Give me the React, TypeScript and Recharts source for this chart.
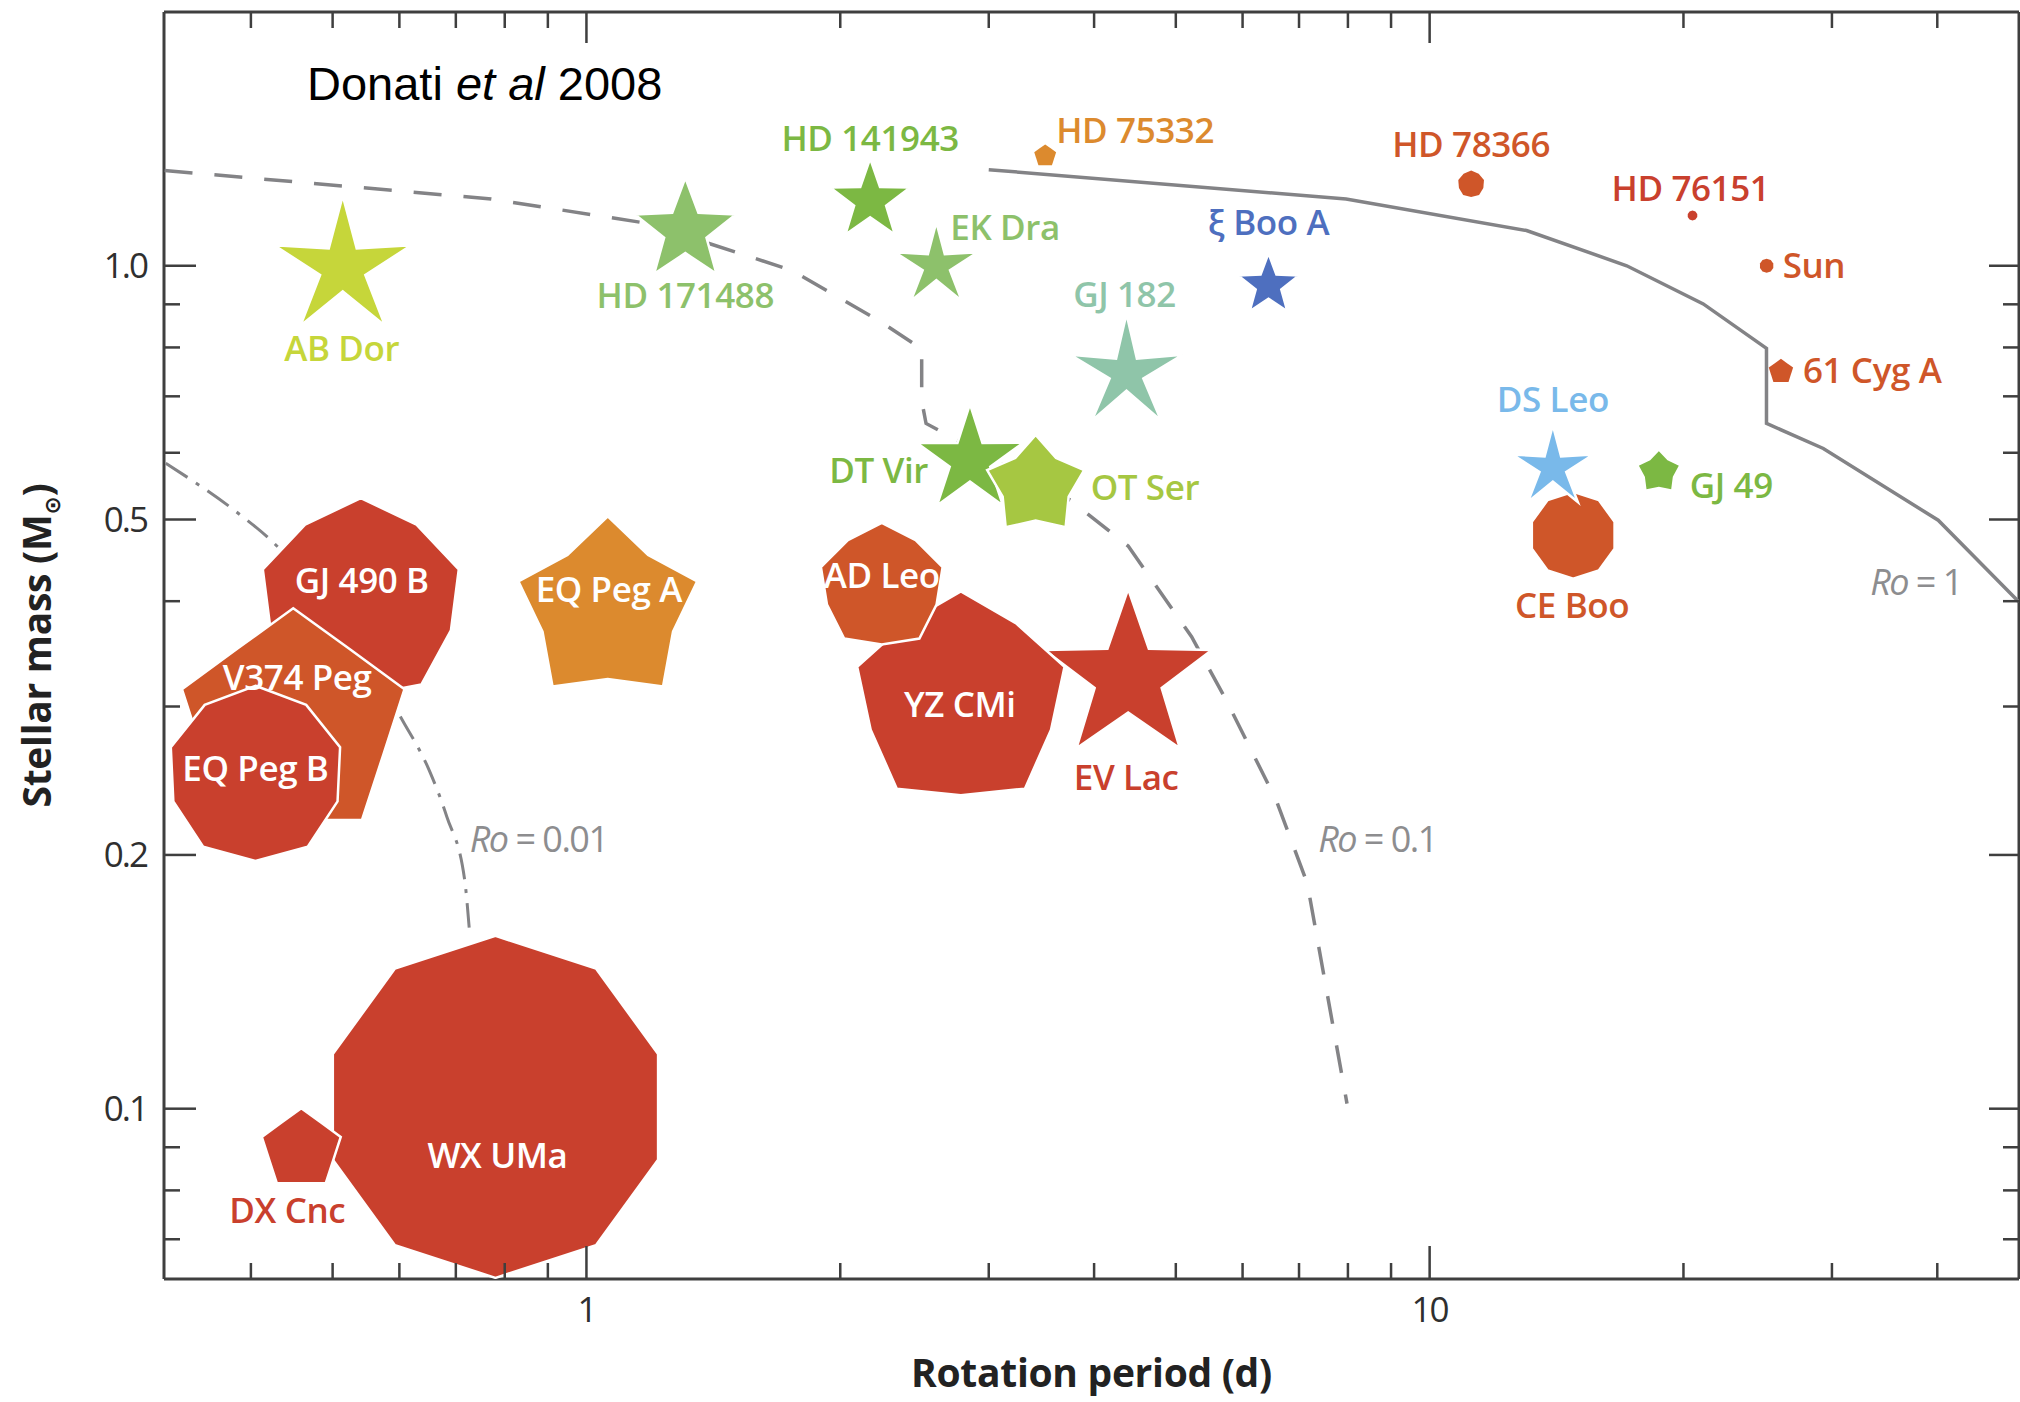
import React from 'react';
import { ScatterChart, Scatter, XAxis, YAxis } from 'recharts';

// ---- Stars: rotation period (d) and stellar mass (solar units) ----
const starNames = [
  'AB Dor', 'HD 171488', 'HD 141943', 'EK Dra', 'HD 75332', 'ξ Boo A', 'GJ 182',
  'HD 78366', 'HD 76151', 'Sun', '61 Cyg A', 'CE Boo', 'DS Leo', 'GJ 49',
  'DT Vir', 'OT Ser', 'GJ 490 B', 'V374 Peg', 'EQ Peg B', 'EQ Peg A',
  'EV Lac', 'YZ CMi', 'AD Leo', 'WX UMa', 'DX Cnc',
];
const rotationPeriods = [
  0.514, 1.31, 2.17, 2.60, 3.50, 6.44, 4.37,
  11.2, 20.5, 25.1, 26.1, 14.8, 14.0, 18.7,
  2.85, 3.41, 0.54, 0.449, 0.405, 1.06,
  4.39, 2.78, 2.24, 0.78, 0.459,
];
const stellarMasses = [
  0.995, 1.10, 1.195, 1.0, 1.35, 0.948, 0.746,
  1.25, 1.147, 1.0, 0.749, 0.479, 0.576, 0.569,
  0.588, 0.548, 0.40, 0.285, 0.249, 0.39,
  0.325, 0.305, 0.416, 0.1005, 0.0894,
];
// Relative magnetic energy, drawn as the symbol radius
const fieldEnergy = [
  7.2, 5.3, 4.2, 4.35, 1.15, 3.2, 5.9,
  1.35, 0.5, 0.7, 1.28, 4.35, 4.25, 2.28,
  5.6, 5.1, 10.3, 11.7, 8.9, 9.4,
  8.8, 10.9, 6.4, 17.1, 4.15,
];
// Axisymmetry of the poloidal field: 1 = decagon, low = sharp star
const axisymmetry = [
  0.33, 0.42, 0.4, 0.33, 0.81, 0.42, 0.3,
  0.95, 1, 1, 0.81, 1, 0.33, 0.7,
  0.38, 0.68, 0.92, 0.81, 0.97, 0.73,
  0.4, 0.87, 0.9, 1, 0.81,
];
// Field topology class (red = poloidal ... blue = toroidal)
const fieldTone = [
  'lime', 'sage', 'green', 'sage', 'orange', 'blue', 'teal',
  'vermilion', 'red', 'vermilion', 'vermilion', 'vermilion', 'sky', 'green',
  'green', 'yellowgreen', 'red', 'vermilion', 'red', 'orange',
  'red', 'red', 'vermilion', 'red', 'red',
];

// ---- Rossby number contours ----
const ro001Periods = [0.317, 0.385, 0.42, 0.605, 0.651, 0.683, 0.717, 0.726];
const ro001Masses = [0.583, 0.51, 0.475, 0.289, 0.252, 0.222, 0.187, 0.164];
const ro01Periods = [0.316, 0.516, 0.771, 1.18, 1.754, 2.213, 2.498, 2.498, 2.528, 2.688, 3.75, 4.39, 5.22, 5.74, 6.58, 7.16, 7.98];
const ro01Masses = [1.297, 1.243, 1.20, 1.123, 0.987, 0.863, 0.797, 0.692, 0.65, 0.629, 0.527, 0.465, 0.363, 0.305, 0.232, 0.185, 0.1014];
const ro1Periods = [3.0, 7.96, 13.03, 17.13, 21.11, 25.09, 25.09, 29.3, 40.1, 50];
const ro1Masses = [1.30, 1.20, 1.101, 1.0, 0.901, 0.798, 0.65, 0.607, 0.499, 0.399];
const roValues = ['0.01', '0.1', '1'];
const roLabelPeriods = [0.727, 7.375, 33.3];
const roLabelMasses = [0.2016, 0.2016, 0.4066];

// ---- Axes ----
const xTicks = [0.4, 0.5, 0.6, 0.7, 0.8, 0.9, 1, 2, 3, 4, 5, 6, 7, 8, 9, 10, 20, 30, 40];
const xMajorTicks = [1, 10];
const yTicks = [0.07, 0.08, 0.09, 0.1, 0.2, 0.3, 0.4, 0.5, 0.6, 0.7, 0.8, 0.9, 1.0];
const yMajorTicks = [0.1, 0.2, 0.5, 1.0];
const X_DOMAIN: [number, number] = [0.3155, 50];
const Y_DOMAIN: [number, number] = [0.0628, 2];

// ---- Styles / layout ----
const W = 2020;
const H = 1402;
const PLOT_LEFT = 164;
const PLOT_TOP = 12;
const PLOT_RIGHT = 2019;
const PLOT_BOTTOM = 1279;
const FRAME = '#3f3f3f';
const CURVE = '#838386';
const SYMBOL_UNIT = 10;
const LABEL_FONT = "'Open Sans', 'DejaVu Sans', sans-serif";

const TONES: Record<string, string> = {
  red: '#c9402d',
  vermilion: '#cf5629',
  orange: '#dc8a2e',
  lime: '#c6d63a',
  yellowgreen: '#a6c742',
  green: '#7cb843',
  sage: '#8dc16b',
  teal: '#8fc5a9',
  sky: '#79b9ea',
  blue: '#4e6fbf',
};

// label anchor, offset from the symbol centre (px), drawn inside the symbol
const LABEL_LAYOUT: Record<string, [string, number, number, boolean]> = {
  'AB Dor': ['middle', -1, 93, false],
  'HD 171488': ['middle', 0, 77, false],
  'HD 141943': ['middle', 0, -50, false],
  'EK Dra': ['start', 14, -26, false],
  'HD 75332': ['start', 11, -13, false],
  'ξ Boo A': ['middle', 0, -50, false],
  'GJ 182': ['middle', -2, -66, false],
  'HD 78366': ['middle', 0, -27, false],
  'HD 76151': ['middle', -2, -15, false],
  'Sun': ['start', 16, 12, false],
  '61 Cyg A': ['start', 22, 11, false],
  'CE Boo': ['middle', -1, 83, false],
  'DS Leo': ['middle', 0, -56, false],
  'GJ 49': ['start', 31, 26, false],
  'DT Vir': ['end', -42, 23, false],
  'OT Ser': ['start', 55, 14, false],
  'GJ 490 B': ['middle', 1, -8, true],
  'V374 Peg': ['middle', 4, -35, true],
  'EQ Peg B': ['middle', 0, 6, true],
  'EQ Peg A': ['middle', 1, -8, true],
  'EV Lac': ['middle', -2, 113, false],
  'YZ CMi': ['middle', -1, 17, true],
  'AD Leo': ['middle', 0, 1, true],
  'WX UMa': ['middle', 2, 61, true],
  'DX Cnc': ['middle', -14, 73, false],
};

type Star = {
  name: string;
  period: number;
  mass: number;
  field: number;
  axi: number;
  tone: string;
};

const stars: Star[] = starNames.map((name, i) => ({
  name,
  period: rotationPeriods[i],
  mass: stellarMasses[i],
  field: fieldEnergy[i],
  axi: axisymmetry[i],
  tone: fieldTone[i],
}));

const toCurve = (periods: number[], masses: number[]) =>
  periods.map((p, i) => ({ period: p, mass: masses[i] }));

const ro001Curve = toCurve(ro001Periods, ro001Masses);
const ro01Curve = toCurve(ro01Periods, ro01Masses);
const ro1Curve = toCurve(ro1Periods, ro1Masses);
const roLabels = roValues.map((text, i) => ({
  text,
  period: roLabelPeriods[i],
  mass: roLabelMasses[i],
}));

// Ten-vertex outline: outer and inner vertices alternate; inner/outer = k
function symbolPoints(cx: number, cy: number, r: number, k: number): string {
  const pts: string[] = [];
  for (let i = 0; i < 10; i++) {
    const a = ((-90 + 36 * i) * Math.PI) / 180;
    const rr = i % 2 === 0 ? r : r * k;
    pts.push(`${(cx + rr * Math.cos(a)).toFixed(2)},${(cy + rr * Math.sin(a)).toFixed(2)}`);
  }
  return pts.join(' ');
}

const StarSymbol = (props: any) => {
  const { cx, cy, payload } = props;
  if (cx == null || cy == null) return <g />;
  const r = payload.field * SYMBOL_UNIT;
  return (
    <polygon
      points={symbolPoints(cx, cy, r, payload.axi)}
      fill={TONES[payload.tone]}
      stroke="#ffffff"
      strokeWidth={r > 18 ? 2.5 : 0}
      strokeLinejoin="miter"
    />
  );
};

const StarLabel = (props: any) => {
  const { cx, cy, payload } = props;
  if (cx == null || cy == null) return <g />;
  const [anchor, dx, dy, inside] = LABEL_LAYOUT[payload.name];
  return (
    <text
      x={cx + dx}
      y={cy + dy}
      textAnchor={anchor as any}
      fill={inside ? '#ffffff' : TONES[payload.tone]}
      fontFamily={LABEL_FONT}
      fontWeight={600}
      fontSize={35}
      letterSpacing={-0.4}
    >
      {payload.name}
    </text>
  );
};

const RoLabel = (props: any) => {
  const { cx, cy, payload } = props;
  if (cx == null || cy == null) return <g />;
  return (
    <text x={cx} y={cy} fill="#8d8d8f" fontFamily={LABEL_FONT} fontSize={36} letterSpacing={-1.5}>
      <tspan fontStyle="italic">Ro</tspan> = {payload.text}
    </text>
  );
};

const NoPoint = () => <g />;

const tickFont = {
  fontFamily: LABEL_FONT,
  fontSize: 35,
  fill: '#2f2f2f',
  letterSpacing: -2,
};

const BottomTick = (props: any) => {
  const { x, payload } = props;
  const major = xMajorTicks.includes(payload.value);
  const len = major ? 33 : 16;
  return (
    <g>
      <line x1={x} x2={x} y1={PLOT_BOTTOM} y2={PLOT_BOTTOM - len} stroke={FRAME} strokeWidth={2.5} />
      {major && (
        <text x={x} y={PLOT_BOTTOM + 43} textAnchor="middle" {...tickFont}>
          {String(payload.value)}
        </text>
      )}
    </g>
  );
};

const TopTick = (props: any) => {
  const { x, payload } = props;
  const len = xMajorTicks.includes(payload.value) ? 31 : 16;
  return <line x1={x} x2={x} y1={PLOT_TOP} y2={PLOT_TOP + len} stroke={FRAME} strokeWidth={2.5} />;
};

const LeftTick = (props: any) => {
  const { y, payload } = props;
  const major = yMajorTicks.includes(payload.value);
  const len = major ? 32 : 16;
  return (
    <g>
      <line x1={PLOT_LEFT} x2={PLOT_LEFT + len} y1={y} y2={y} stroke={FRAME} strokeWidth={2.5} />
      {major && (
        <text x={PLOT_LEFT - 17} y={y + 12.5} textAnchor="end" {...tickFont}>
          {payload.value.toFixed(1)}
        </text>
      )}
    </g>
  );
};

const RightTick = (props: any) => {
  const { y, payload } = props;
  const len = yMajorTicks.includes(payload.value) ? 30 : 16;
  return <line x1={PLOT_RIGHT} x2={PLOT_RIGHT - len} y1={y} y2={y} stroke={FRAME} strokeWidth={2.5} />;
};

const XTitle = () => (
  <text
    x={(PLOT_LEFT + PLOT_RIGHT) / 2}
    y={1387}
    textAnchor="middle"
    fontFamily={LABEL_FONT}
    fontWeight={700}
    fontSize={39}
    fill="#222"
    letterSpacing={-0.3}
  >
    Rotation period (d)
  </text>
);

const YTitle = () => {
  const cx = 51;
  const cy = (PLOT_TOP + PLOT_BOTTOM) / 2;
  return (
    <text
      x={cx}
      y={cy}
      transform={`rotate(-90, ${cx}, ${cy})`}
      textAnchor="middle"
      fontFamily={LABEL_FONT}
      fontWeight={700}
      fontSize={39}
      fill="#222"
      letterSpacing={-0.3}
    >
      Stellar mass (M
      <tspan fontSize={22} dy={9}>⊙</tspan>
      <tspan dy={-9}>)</tspan>
    </text>
  );
};

const axisLine = { stroke: FRAME, strokeWidth: 3 };

export default function App() {
  return (
    <div style={{ position: 'absolute', left: 0, top: 0, width: W, height: H, overflow: 'hidden', background: '#fff' }}>
      <ScatterChart width={W} height={H} margin={{ top: PLOT_TOP - 1, right: 0, bottom: 0, left: 0 }}>
        <XAxis
          xAxisId="b"
          dataKey="period"
          type="number"
          scale="log"
          domain={X_DOMAIN}
          allowDataOverflow
          ticks={xTicks}
          interval={0}
          height={H - PLOT_BOTTOM}
          axisLine={axisLine}
          tickLine={false}
          tick={(p: any) => <BottomTick {...p} />}
          label={() => <XTitle />}
        />
        <XAxis
          xAxisId="t"
          orientation="top"
          dataKey="period"
          type="number"
          scale="log"
          domain={X_DOMAIN}
          allowDataOverflow
          ticks={xTicks}
          interval={0}
          height={1}
          axisLine={axisLine}
          tickLine={false}
          tick={(p: any) => <TopTick {...p} />}
        />
        <YAxis
          yAxisId="l"
          dataKey="mass"
          type="number"
          scale="log"
          domain={Y_DOMAIN}
          allowDataOverflow
          ticks={yTicks}
          interval={0}
          width={PLOT_LEFT}
          axisLine={axisLine}
          tickLine={false}
          tick={(p: any) => <LeftTick {...p} />}
          label={() => <YTitle />}
        />
        <YAxis
          yAxisId="r"
          orientation="right"
          dataKey="mass"
          type="number"
          scale="log"
          domain={Y_DOMAIN}
          allowDataOverflow
          ticks={yTicks}
          interval={0}
          width={1}
          axisLine={axisLine}
          tickLine={false}
          tick={(p: any) => <RightTick {...p} />}
        />

        {/* keeps the mirrored axes bound to a series */}
        <Scatter xAxisId="t" yAxisId="r" data={ro1Curve} shape={NoPoint} isAnimationActive={false} />

        {/* Rossby number contours */}
        <Scatter
          xAxisId="b"
          yAxisId="l"
          data={ro001Curve}
          shape={NoPoint}
          line={{ stroke: CURVE, strokeWidth: 3, strokeDasharray: '26 10 4 10', fill: 'none' }}
          lineJointType="monotoneX"
          isAnimationActive={false}
        />
        <Scatter
          xAxisId="b"
          yAxisId="l"
          data={ro01Curve}
          shape={NoPoint}
          line={{ stroke: CURVE, strokeWidth: 3.5, strokeDasharray: '28 22', fill: 'none' }}
          lineJointType="linear"
          isAnimationActive={false}
        />
        <Scatter
          xAxisId="b"
          yAxisId="l"
          data={ro1Curve}
          shape={NoPoint}
          line={{ stroke: CURVE, strokeWidth: 3.5, fill: 'none' }}
          lineJointType="linear"
          isAnimationActive={false}
        />
        <Scatter xAxisId="b" yAxisId="l" data={roLabels} shape={RoLabel} isAnimationActive={false} />

        {/* stars */}
        <Scatter xAxisId="b" yAxisId="l" data={stars} shape={StarSymbol} isAnimationActive={false} />
        <Scatter xAxisId="b" yAxisId="l" data={stars} shape={StarLabel} isAnimationActive={false} />
      </ScatterChart>
      <svg width={W} height={H} style={{ position: 'absolute', left: 0, top: 0, pointerEvents: 'none' }}>
        <text x={307} y={100} fontFamily="'Liberation Sans', Arial, sans-serif" fontSize={47} fill="#000">
          Donati <tspan fontStyle="italic">et al</tspan> 2008
        </text>
      </svg>
    </div>
  );
}
